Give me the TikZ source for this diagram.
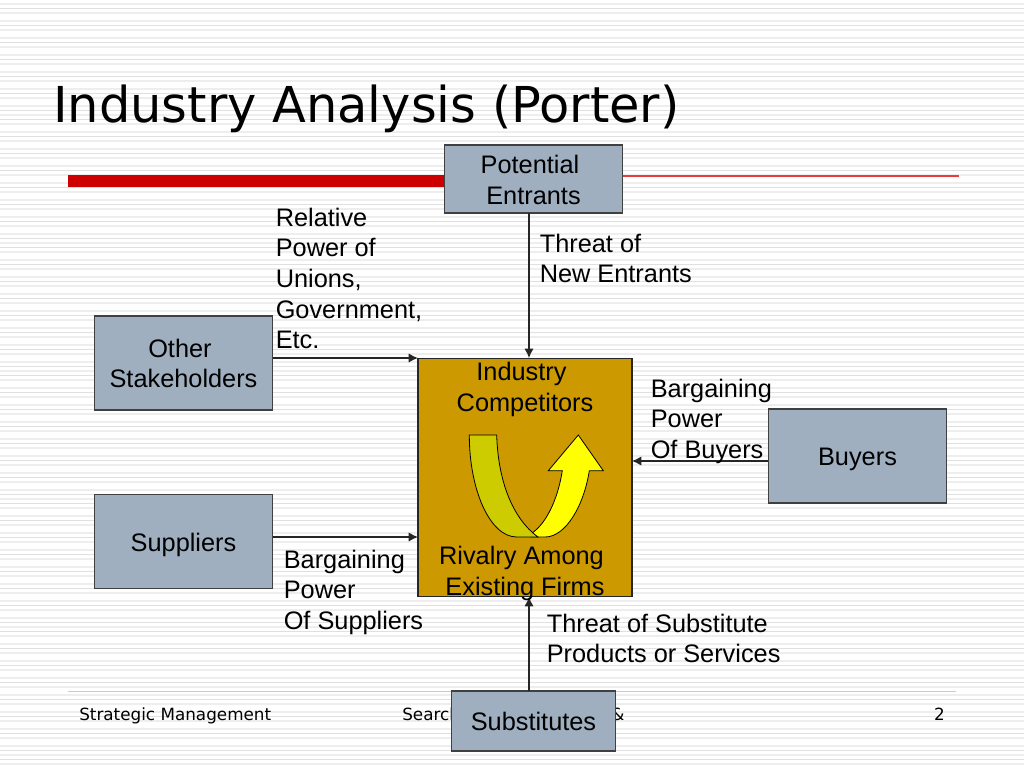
\documentclass[tikz,border=0pt]{standalone}
\usepackage{fontspec}
\setmainfont{Liberation Sans}
\newfontfamily\djv{DejaVu Sans}
\usetikzlibrary{arrows.meta}
\definecolor{boxblue}{RGB}{160,175,192}
\definecolor{gold}{RGB}{204,153,0}
\definecolor{redbar}{RGB}{204,0,0}
\definecolor{redthin}{RGB}{235,60,60}
\definecolor{stripeA}{RGB}{238,238,238}
\definecolor{stripeB}{RGB}{224,224,226}
\definecolor{olive}{RGB}{204,204,0}
\definecolor{yel}{RGB}{255,255,0}
\definecolor{pale}{RGB}{232,190,190}
\newcommand{\trail}{\hspace*{5.3pt}}
\tikzset{
  x=0.75pt,y=-0.75pt,
  bluebox/.style={draw=black!75,fill=boxblue,line width=0.8pt,inner sep=0pt},
  boxtext/.style={inner sep=0pt,align=center,font=\fontsize{19}{23}\selectfont},
  lbl/.style={inner sep=0pt,anchor=north west,align=left,font=\fontsize{19}{23}\selectfont},
  ctr/.style={inner sep=0pt,align=center,font=\fontsize{19}{23}\selectfont},
  foot/.style={inner sep=0pt,anchor=base west,font=\djv\fontsize{12.6}{14}\selectfont},
  conn/.style={draw=black!85,line width=1pt,-{Latex[length=7pt,width=7pt]}},
}
\begin{document}
\begin{tikzpicture}
\useasboundingbox (0,0) rectangle (1024,768);
\fill[white] (0,0) rectangle (1024,768);
\foreach \n in {0,...,6}{
  \foreach \k in {0,...,7}{
    \pgfmathsetmacro{\yc}{-8.7+128*\n+17*\k}
    \draw[stripeA,line width=1.2pt] (0,{\yc-4.5}) -- (1024,{\yc-4.5});
    \draw[stripeA,line width=1.2pt] (0,{\yc+4.5}) -- (1024,{\yc+4.5});
    \draw[stripeB,line width=0.8pt] (0,\yc) -- (1024,\yc);
  }
}
% rules
\fill[redbar] (68,175) rectangle (444,187);
\fill[redthin] (623,175) rectangle (959,177);
\fill[pale] (68,690.5) rectangle (956,691.7);
% title
\node[inner sep=0pt,anchor=base west,font=\djv\fontsize{37.1}{40}\selectfont] (title) at (53,122) {Industry Analysis (Porter)};
% footer
\node[foot] (f1) at (79,720.5) {Strategic Management};
\node[foot] (f2) at (402,720.5) {Search};
\node[foot] (f2b) at (611,720.5) {\&};
\node[foot,anchor=base east] (f3) at (945,720.5) {2};
% centre
\node[draw=black!85,fill=gold,line width=0.8pt,minimum width=160.5pt,minimum height=179pt,inner sep=0pt] (centre) at (525,477.5) {};
% boxes
\node[bluebox,minimum width=134pt,minimum height=51pt,label={[boxtext,yshift=-0.6pt]center:Potential\trail\\Entrants}] (pe) at (533.5,179) {};
\node[bluebox,minimum width=134pt,minimum height=70.5pt,label={[boxtext,yshift=-0.4pt]center:Other\trail\\Stakeholders}] (os) at (183.5,363) {};
\node[bluebox,minimum width=134pt,minimum height=70pt,label={[boxtext,yshift=-2.6pt]center:Suppliers}] (su) at (183.5,541.5) {};
\node[bluebox,minimum width=134pt,minimum height=70.5pt,label={[boxtext,yshift=-2.6pt]center:Buyers}] (bu) at (857.5,456) {};
\node[bluebox,minimum width=122.5pt,minimum height=45pt,label={[boxtext]center:Substitutes}] (sb) at (533.5,721) {};
% connectors
\coordinate (pein) at (529,358);
\coordinate (peout) at (529,213);
\coordinate (sbout) at (529,691);
\coordinate (sbin) at (529,597);
\coordinate (osout) at (273,358);
\coordinate (osin) at (418,358);
\coordinate (suout) at (273,537);
\coordinate (suin) at (418,537);
\coordinate (buout) at (768,461);
\coordinate (buin) at (632,461);
\draw[conn] (peout) -- (pein);
\draw[conn] (sbout) -- (sbin);
\draw[conn] (osout) -- (osin);
\draw[conn] (suout) -- (suin);
\draw[conn] (buout) -- (buin);
% curved arrow
\draw[fill=yel,line width=0.6pt,line join=miter] (531.7,533.3) .. controls (547,523) and (558,498) .. (562.3,470.7) -- (548.3,470.7) -- (578.3,435) -- (603.3,470.7) -- (589.3,470.7) .. controls (584,505) and (566,537) .. (545,537) -- (531,537) -- cycle;
\draw[fill=olive,line width=0.6pt,line join=miter] (469.3,435) -- (496.7,435) .. controls (498,480) and (512,518) .. (538,537) -- (516.7,537) .. controls (490,537) and (469.3,490) .. (469.3,435) -- cycle;
% labels
\node[ctr] (ic) at (525,389.5) {Industry\trail\\Competitors};
\node[ctr] (rv) at (525,573.5) {Rivalry Among\trail\\Existing Firms};
\node[lbl] (l1) at (275.5,207.5) {Relative\\Power of\\Unions,\\Government,\\Etc.};
\node[lbl] (l2) at (539.5,233.5) {Threat of\\New Entrants};
\node[lbl] (l3) at (650.5,378.5) {Bargaining\\Power\\Of Buyers};
\node[lbl] (l4) at (283.5,549.5) {Bargaining\\Power\\Of Suppliers};
\node[lbl] (l5) at (546.5,613.5) {Threat of Substitute\\Products or Services};
\end{tikzpicture}
\end{document}
